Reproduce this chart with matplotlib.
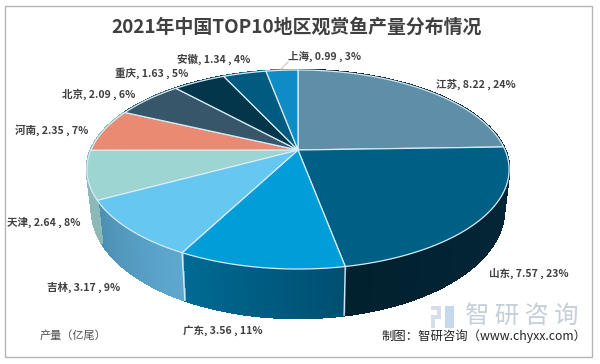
import numpy as np
import matplotlib
matplotlib.use('Agg')
import matplotlib.pyplot as plt
from matplotlib.patches import Polygon, Rectangle

plt.rcParams['font.family'] = ['Noto Sans CJK SC', 'DejaVu Sans']

regions = ['江苏', '山东', '广东', '吉林', '天津', '河南', '北京', '重庆', '安徽', '上海']
values = [8.22, 7.57, 3.56, 3.17, 2.64, 2.35, 2.09, 1.63, 1.34, 0.99]
percents = [24, 23, 11, 9, 8, 7, 6, 5, 4, 3]

top_colors = ['#5f8fa8', '#005f85', '#009dd9', '#66c7f0', '#9dd5d3',
              '#e98a72', '#37566a', '#03354b', '#015a80', '#0f8cc4']
# 侧面颜色：起点、终点
wall_colors = [('#03212f', '#03212f'), ('#03283a', '#02212f'), ('#004f70', '#006a94'),
               ('#5ea8cf', '#4c8fb3'), ('#8cb8b8', '#8cb8b8'), ('#8cb8b8', '#8cb8b8'),
               ('#37566a', '#37566a'), ('#03354b', '#03354b'), ('#015a80', '#015a80'),
               ('#0f8cc4', '#0f8cc4')]
label_pos = [(436, 84), (489, 273), (183, 331), (47, 287), (7, 222),
             (15, 130), (62, 94), (115, 73), (177, 59), (288, 56)]

cx, cy = 298, 150
k = 0.196


def project(theta, a, b, off):
    # 圆上的点做透视变换，theta从12点方向顺时针
    u, v = np.sin(theta), np.cos(theta)
    den = 1 + k * v
    return cx + a * u / den, cy - b * v / den + off


def top_edge(theta):
    return project(theta, 207, 95.7, 0)


def low_edge(theta):
    return project(theta, 202, 104, 38.6)


fig = plt.figure(figsize=(6, 3.64), dpi=100)
ax = fig.add_axes([0, 0, 1, 1])
ax.set_xlim(0, 600)
ax.set_ylim(364, 0)
ax.axis('off')

ax.add_patch(Rectangle((4.5, 5.5), 587, 351, fc='white', ec='#b4b4b4', lw=1))

total = sum(values)
edges = 2 * np.pi * np.cumsum([0] + values) / total

# 侧面，先铺一层整块底色，再画渐变，避免条纹
for i in range(len(values)):
    ts = np.linspace(edges[i], edges[i + 1], 41)
    c0 = np.array(matplotlib.colors.to_rgb(wall_colors[i][0]))
    c1 = np.array(matplotlib.colors.to_rgb(wall_colors[i][1]))
    x1, y1 = top_edge(ts)
    x2, y2 = low_edge(ts)
    pts = np.column_stack([np.r_[x1, x2[::-1]], np.r_[y1, y2[::-1]]])
    ax.add_patch(Polygon(pts, fc=(c0 + c1) / 2, ec='none'))
    for j in range(40):
        col = c0 + (c1 - c0) * j / 39
        ax.add_patch(Polygon([(x1[j], y1[j]), (x1[j + 1], y1[j + 1]),
                              (x2[j + 1], y2[j + 1]), (x2[j], y2[j])],
                             fc=col, ec=col, lw=1.2, antialiased=False))

# 侧面分隔线
for i in [2, 3]:
    xa, ya = top_edge(edges[i])
    xb, yb = low_edge(edges[i])
    ax.plot([xa, xb], [ya, yb], color='#cfe8f3', lw=1)

# 顶面
for i in range(len(values)):
    ts = np.linspace(edges[i], edges[i + 1], 80)
    x, y = top_edge(ts)
    pts = np.column_stack([np.r_[cx, x], np.r_[cy, y]])
    ax.add_patch(Polygon(pts, fc=top_colors[i], ec='#d4ecf6', lw=0.9))

# 水印
for rect, col in [((431, 306, 10, 4), '#d5deea'), ((437, 306, 4, 13), '#d5deea'),
                  ((431, 315, 10, 4), '#d5deea'), ((431, 315, 4, 13), '#d5deea'),
                  ((445, 306, 9, 22), '#c6d9ec')]:
    ax.add_patch(Rectangle(rect[:2], rect[2], rect[3], fc=col, ec='none'))
ax.text(465, 317, '智 研 咨 询', fontsize=17.5, color='#c4cfd9', ha='left', va='center')

for i in range(len(values)):
    txt = '%s, %.2f , %d%%' % (regions[i], values[i], percents[i])
    ax.text(label_pos[i][0], label_pos[i][1], txt, fontsize=7.6, fontweight='bold',
            color='#404040', ha='left', va='center')
ax.plot([288, 281], [62, 69], color='#c8c8c8', lw=0.8)

ax.text(297, 27, '2021年中国TOP10地区观赏鱼产量分布情况', fontsize=13.6, fontweight='bold',
        color='#404040', ha='center', va='center')
ax.text(40, 336, '产量（亿尾）', fontsize=8, color='#505050', ha='left', va='center')
ax.text(381, 336, '制图：智研咨询（www.chyxx.com）', fontsize=8.9, color='#222222',
        ha='left', va='center')

plt.savefig('out.png', dpi=100)
